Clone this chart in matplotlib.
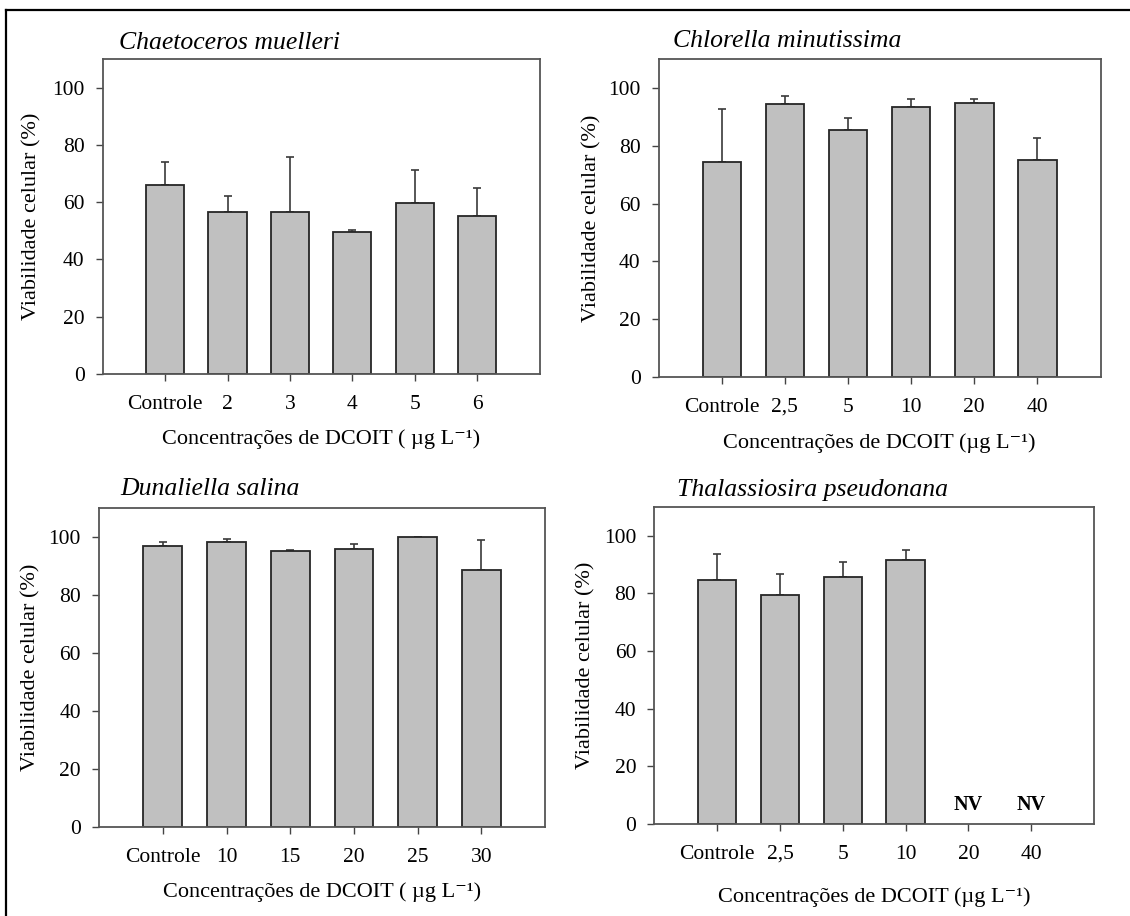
import numpy as np
import matplotlib
matplotlib.use('Agg')
import matplotlib.pyplot as plt
from matplotlib.lines import Line2D

plt.rcParams['font.family'] = ['Liberation Serif', 'DejaVu Serif']

# 数据
titles = ['Chaetoceros muelleri', 'Chlorella minutissima',
          'Dunaliella salina', 'Thalassiosira pseudonana']

cm_labels = ['Controle', '2', '3', '4', '5', '6']
cm_vals = [66.0, 56.4, 56.4, 49.7, 59.7, 55.2]
cm_top = [74.2, 62.1, 75.8, 50.2, 71.3, 65.0]

cmin_labels = ['Controle', '2,5', '5', '10', '20', '40']
cmin_vals = [74.2, 94.5, 85.3, 93.3, 94.7, 75.2]
cmin_top = [92.7, 97.1, 89.5, 96.1, 96.1, 82.8]

ds_labels = ['Controle', '10', '15', '20', '25', '30']
ds_vals = [96.9, 98.3, 95.3, 95.7, 100.0, 88.5]
ds_top = [98.4, 99.2, 95.5, 97.7, 100.0, 98.9]

tp_labels = ['Controle', '2,5', '5', '10', '20', '40']
tp_vals = [84.8, 79.4, 85.6, 91.6, np.nan, np.nan]
tp_top = [93.6, 86.7, 90.8, 95.0, np.nan, np.nan]

xlabels = ['Concentrações de DCOIT ( µg L⁻¹)', 'Concentrações de DCOIT (µg L⁻¹)',
           'Concentrações de DCOIT ( µg L⁻¹)', 'Concentrações de DCOIT (µg L⁻¹)']

panels = [(cm_labels, cm_vals, cm_top), (cmin_labels, cmin_vals, cmin_top),
          (ds_labels, ds_vals, ds_top), (tp_labels, tp_vals, tp_top)]

W, H = 1130, 916
fig = plt.figure(figsize=(W / 100, H / 100), dpi=100)

# caixas dos eixos em pixels: esquerda, direita, topo, base
boxes = [(102.7, 539.5, 59, 374), (658.7, 1100.5, 59, 377),
         (99.1, 545.2, 508, 827), (654.4, 1094, 507, 824)]
title_pos = [(0.037, 1.032), (0.032, 1.038), (0.048, 1.040), (0.052, 1.035)]
ylab_x = [61.7, 57.7, 59, 59.4]
xlab_y = [55, 56, 55, 63]

for i, (labels, vals, tops) in enumerate(panels):
    l, r, t, b = boxes[i]
    ax = fig.add_axes([l / W, 1 - b / H, (r - l) / W, (b - t) / H])
    x = np.arange(len(labels))
    vals = np.array(vals, dtype=float)
    tops = np.array(tops, dtype=float)
    ok = ~np.isnan(vals)
    ax.bar(x[ok], vals[ok], 0.61, color='#c0c0c0', edgecolor='#262626',
           linewidth=1.3, zorder=2)
    err = tops[ok] - vals[ok]
    ax.errorbar(x[ok], vals[ok], yerr=[np.zeros_like(err), err], fmt='none',
                ecolor='#3a3a3a', elinewidth=1.2, capsize=3.2, capthick=1.2, zorder=1)
    for xi in x[~ok]:
        ax.text(xi, 3.2, 'NV', ha='center', va='bottom', fontsize=14.5,
                fontweight='bold')

    ax.set_xlim(-1, 6)
    ax.set_ylim(0, 110)
    ax.set_yticks([0, 20, 40, 60, 80, 100])
    ax.set_xticks(x)
    ax.set_xticklabels(labels)
    ax.tick_params(direction='out', length=5, width=1, color='#444444',
                   labelsize=15.5)
    ax.tick_params(axis='x', pad=10)
    ax.tick_params(axis='y', pad=8)
    for s in ax.spines.values():
        s.set_color('#555555')
        s.set_linewidth(1.3)

    ax.set_ylabel('Viabilidade celular (%)', fontsize=16)
    ax.yaxis.set_label_coords(-ylab_x[i] / (r - l), 0.5)
    ax.set_xlabel(xlabels[i], fontsize=16)
    ax.xaxis.set_label_coords(0.5, -xlab_y[i] / (b - t))

    tx, ty = title_pos[i]
    ax.text(tx, ty, titles[i], transform=ax.transAxes, fontsize=18.5,
            style='italic', ha='left', va='baseline')

# moldura
fig.add_artist(Line2D([6 / W, 1], [1 - 10 / H, 1 - 10 / H], color='black',
                      linewidth=1.6, transform=fig.transFigure))
fig.add_artist(Line2D([6 / W, 6 / W], [0, 1 - 10 / H], color='black',
                      linewidth=1.6, transform=fig.transFigure))

fig.savefig('out.png', dpi=100)
